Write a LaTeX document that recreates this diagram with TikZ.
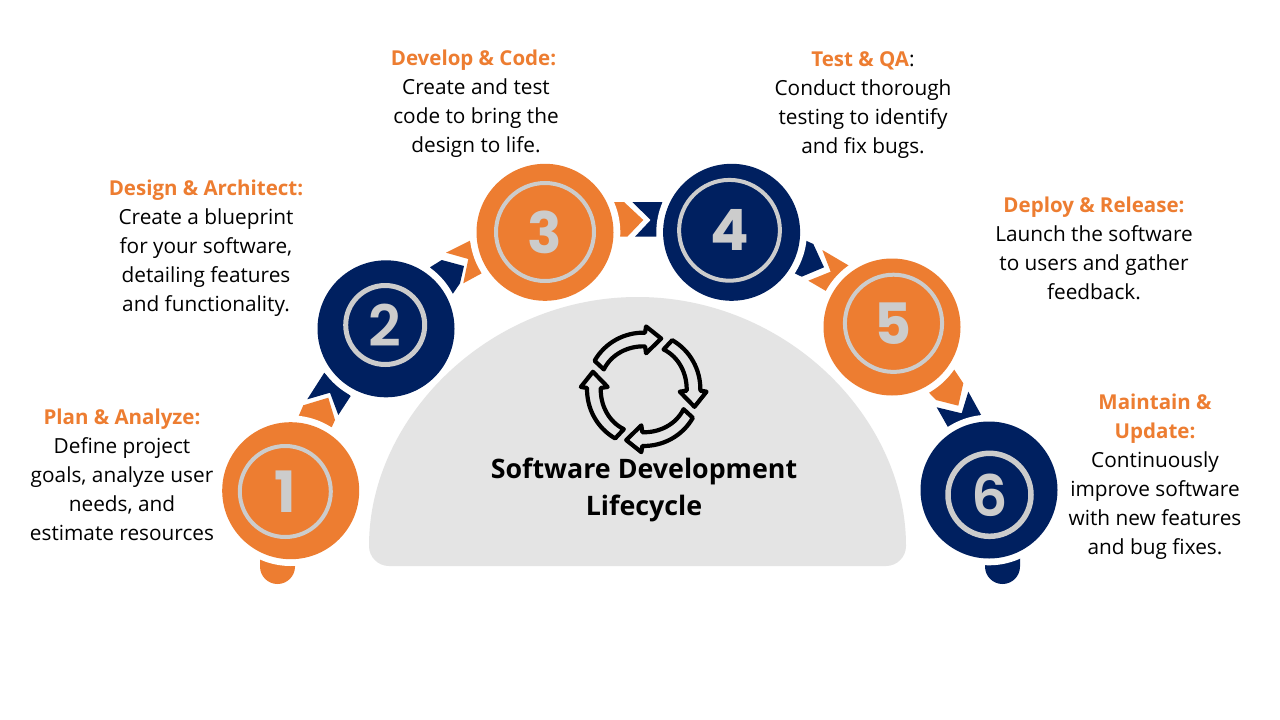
\documentclass[tikz,border=0pt]{standalone}
\usepackage{fontspec}
\setmainfont{Open Sans}
\newfontfamily\digitfont{Poppins}
\newfontfamily\digitmed{Poppins SemiBold}
\definecolor{org}{HTML}{ED7D31}
\definecolor{nvy}{HTML}{002060}
\definecolor{ringc}{HTML}{CCCCCC}
\definecolor{domec}{HTML}{E4E4E4}
\newcommand{\hd}[1]{\textcolor{org}{\fontsize{20.5}{29}\selectfont\textbf{#1}}}
\tikzset{
  x=1pt,y=-1pt,
  halo/.style={circle,fill=white,minimum size=150.6pt,inner sep=0pt},
  ball/.style={circle,minimum size=137pt,inner sep=0pt},
  ring/.style={circle,draw=ringc,line width=4pt,inner sep=0pt,text=ringc,font=\digitfont\bfseries\fontsize{57}{57}\selectfont},
  ringm/.style={ring,font=\digitmed\fontsize{57}{57}\selectfont},
  txt/.style={align=center,inner sep=0pt,font=\fontsize{20.8}{29}\selectfont},
  title/.style={align=center,inner sep=0pt,font=\bfseries\fontsize{26.8}{37}\selectfont},
  cyc/.pic={\draw[line width=4.2pt,line join=round,fill=domec]
    (-47.7,-27.7) .. controls (-37.6,-45.2) and (-18.9,-55.5) .. (1.3,-55)
    -- (2.3,-61) -- (17,-49.3) -- (2.3,-35) -- (1.3,-41.7)
    .. controls (-15.3,-42.2) and (-31.3,-34.2) .. (-38.7,-19.3) -- cycle;}
}
\begin{document}
\begin{tikzpicture}
\path[use as bounding box,fill=white] (0,0) rectangle (1280,720);
% tabs
\fill[org] (260,558) -- (260,566.5) .. controls (260,576.2) and (267.8,584) .. (277.5,584) .. controls (287.2,584) and (295,576.2) .. (295,566.5) -- (295,564) -- cycle;
\fill[nvy] (985,564) -- (985,566.5) .. controls (985,576.2) and (992.8,584) .. (1002.5,584) .. controls (1012.2,584) and (1020,576.2) .. (1020,566.5) -- (1020,558) -- cycle;
% chevrons
\fill[org] (298.7,416) -- (303.3,405.3) -- (328.3,397.7) -- (335,420) -- (331.7,427.3) -- cycle;
\fill[nvy] (307.3,399.3) -- (330,392.7) -- (338.3,415) -- (350.7,396) -- (324.3,372.7) -- cycle;
\fill[nvy] (430,267.3) -- (441.7,260) -- (464,266) -- (460,283.3) -- (452.7,294) -- cycle;
\fill[org] (446,252.7) -- (468.3,259) -- (463.3,283.3) -- (481.7,273.3) -- (470,240.7) -- cycle;
\fill[org] (614,202) -- (624,202) -- (643.3,220) -- (627.3,236.7) -- (620,236.7) -- cycle;
\fill[nvy] (632.3,202) -- (662.7,202) -- (656.7,236.7) -- (635,236.7) -- (650.7,220) -- cycle;
\fill[nvy] (806,240.7) -- (813.3,244) -- (824,267.3) -- (801.7,276.7) -- (794.7,273.3) -- cycle;
\fill[org] (822.3,250) -- (849,265.7) -- (826,291) -- (808.3,280.7) -- (830.7,271.7) -- cycle;
\fill[org] (954,369.3) -- (963.3,383.3) -- (958.3,405.7) -- (936,400) -- (929,392.7) -- cycle;
\fill[nvy] (936.7,407.3) -- (961.7,413.3) -- (968.3,391.7) -- (981.7,416) -- (948.3,427.7) -- cycle;
% white gaps round the balls
\node[halo] (h1) at (290.7,490.7) {};
\node[halo] (h2) at (386,328.8) {};
\node[halo] (h3) at (545,232.3) {};
\node[halo] (h4) at (731.6,232.3) {};
\node[halo] (h5) at (892,327) {};
\node[halo] (h6) at (989,490) {};
% dome
\fill[domec] (369,546) .. controls (369,417.2) and (489.2,297) .. (637.5,297)
  .. controls (785.8,297) and (906,417.2) .. (906,546)
  .. controls (906,557) and (897,566) .. (886,566) -- (389,566)
  .. controls (378,566) and (369,557) .. (369,546) -- cycle;
% balls
\node[ball,fill=org] (c1) at (290.7,490.7) {};
\node[ball,fill=nvy] (c2) at (386,328.8) {};
\node[ball,fill=org] (c3) at (545,232.3) {};
\node[ball,fill=nvy] (c4) at (731.6,232.3) {};
\node[ball,fill=org] (c5) at (892,327) {};
\node[ball,fill=nvy] (c6) at (989,490) {};
% rings and digits
\node[ring,minimum size=91pt] (r1) at (285.3,491.5) {1};
\node[ringm,line width=5pt,minimum size=79pt] (r2) at (385.2,325) {2};
\node[ring,minimum size=98pt] (r3) at (545,232) {3};
\node[ring,minimum size=100.8pt] (r4) at (729.5,230.3) {4};
\node[ring,minimum size=97.2pt] (r5) at (893.5,323.3) {5};
\node[ringm,line width=5.5pt,minimum size=83pt] (r6) at (989.5,494.8) {6};
% cycle icon
\foreach \a/\n in {0/a,-90/b,-180/d,-270/e}
  \pic[shift={(643.7,389.3)},rotate=\a,scale=1.03] (ic\n) {cyc};
% labels
\node[title] (t0) at (644,490) {Software Development\\Lifecycle};
\node[txt] (t1) at (122,474.5) {\hd{Plan \& Analyze:}\\Define project\\goals, analyze user\\needs, and\\estimate resources};
\node[txt] (t2) at (206,248) {\hd{Design \& Architect:}\\Create a blueprint\\for your software,\\detailing features\\and functionality.};
\node[txt] (t3) at (476,103.5) {\hd{Develop \& Code:}\hspace*{5pt}\\Create and test\\code to bring the\\design to life.};
\node[txt] (t4) at (863,105.5) {\hd{Test \& QA}:\\Conduct thorough\\testing to identify\\and fix bugs.};
\node[txt] (t5) at (1094,248) {\hd{Deploy \& Release:}\\Launch the software\\to users and gather\\feedback.};
\node[txt] (t6) at (1155,477) {\hd{Maintain \&}\\\hd{Update:}\\Continuously\\improve software\\with new features\\and bug fixes.};
\end{tikzpicture}
\end{document}
